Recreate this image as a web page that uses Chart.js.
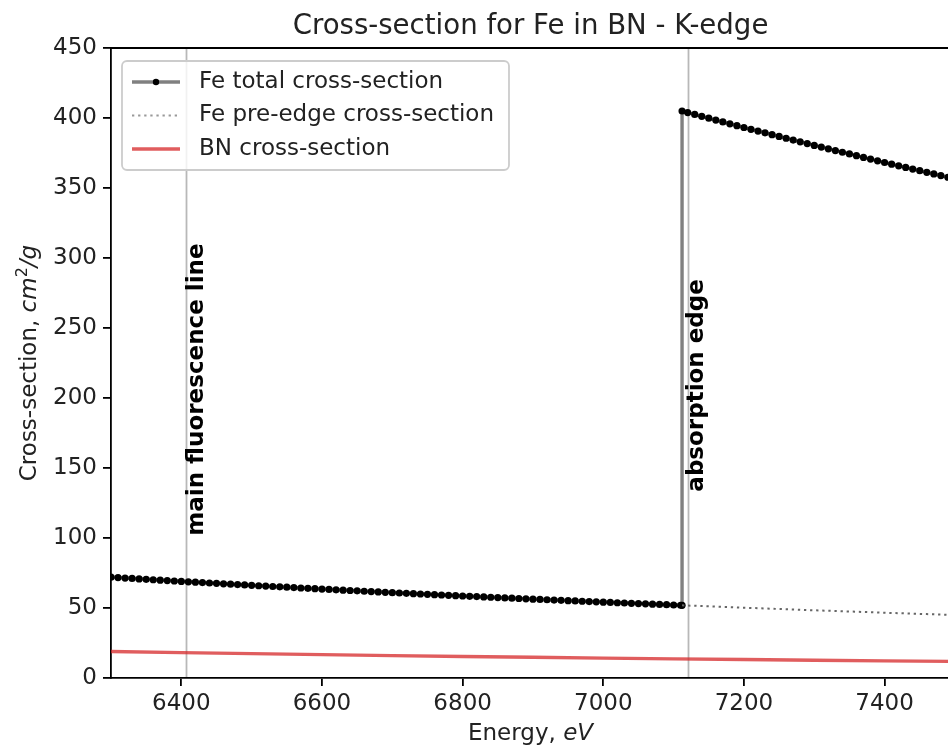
<!DOCTYPE html>
<html>
<head>
<meta charset="utf-8">
<script src="https://cdn.jsdelivr.net/npm/chart.js@4"></script>
<style>
  html, body { margin: 0; padding: 0; background: #fff; overflow: hidden; }
  canvas { display: block; }
</style>
</head>
<body>
<canvas id="xsChart" width="960" height="751"></canvas>
<script>
// energies (eV) below the K-edge, Fe total cross-section (cm2/g)
const energyLow = [
  6300, 6310, 6320, 6330, 6340, 6350, 6360, 6370, 6380, 6390,
  6400, 6410, 6420, 6430, 6440, 6450, 6460, 6470, 6480, 6490,
  6500, 6510, 6520, 6530, 6540, 6550, 6560, 6570, 6580, 6590,
  6600, 6610, 6620, 6630, 6640, 6650, 6660, 6670, 6680, 6690,
  6700, 6710, 6720, 6730, 6740, 6750, 6760, 6770, 6780, 6790,
  6800, 6810, 6820, 6830, 6840, 6850, 6860, 6870, 6880, 6890,
  6900, 6910, 6920, 6930, 6940, 6950, 6960, 6970, 6980, 6990,
  7000, 7010, 7020, 7030, 7040, 7050, 7060, 7070, 7080, 7090,
  7100, 7110, 7112
];
const totalLow = [
  72.00, 71.70, 71.39, 71.09, 70.79, 70.49, 70.19, 69.89, 69.59, 69.30,
  69.00, 68.72, 68.43, 68.15, 67.87, 67.59, 67.30, 67.02, 66.74, 66.45,
  66.17, 65.90, 65.64, 65.37, 65.10, 64.84, 64.57, 64.30, 64.04, 63.77,
  63.50, 63.25, 62.99, 62.74, 62.49, 62.24, 61.98, 61.73, 61.48, 61.22,
  60.97, 60.73, 60.49, 60.25, 60.01, 59.78, 59.54, 59.30, 59.06, 58.82,
  58.58, 58.35, 58.13, 57.90, 57.68, 57.45, 57.22, 57.00, 56.77, 56.55,
  56.32, 56.11, 55.89, 55.68, 55.46, 55.25, 55.03, 54.82, 54.60, 54.39,
  54.17, 53.97, 53.76, 53.56, 53.36, 53.16, 52.95, 52.75, 52.55, 52.34,
  52.14, 51.95, 51.91
];

// energies above the edge, Fe total and the pre-edge extrapolation
const energyHigh = [
  7112, 7120, 7130, 7140, 7150, 7160, 7170, 7180, 7190,
  7200, 7210, 7220, 7230, 7240, 7250, 7260, 7270, 7280, 7290,
  7300, 7310, 7320, 7330, 7340, 7350, 7360, 7370, 7380, 7390,
  7400, 7410, 7420, 7430, 7440, 7450, 7460, 7470, 7480, 7490,
  7500
];
const totalHigh = [
  405.00, 403.91, 402.55, 401.20, 399.86, 398.52, 397.19, 395.86, 394.54,
  393.22, 391.94, 390.66, 389.38, 388.10, 386.82, 385.54, 384.26, 382.98, 381.70,
  380.42, 379.20, 377.98, 376.75, 375.53, 374.31, 373.09, 371.87, 370.64, 369.42,
  368.20, 367.03, 365.86, 364.70, 363.53, 362.36, 361.19, 360.02, 358.86, 357.69,
  356.52
];
const preEdge = [
  51.91, 51.76, 51.57, 51.39, 51.20, 51.02, 50.83, 50.65, 50.43,
  50.21, 50.03, 49.84, 49.66, 49.47, 49.29, 49.11, 48.92, 48.74, 48.55,
  48.37, 48.20, 48.02, 47.85, 47.67, 47.50, 47.33, 47.15, 46.98, 46.80,
  46.63, 46.46, 46.30, 46.13, 45.96, 45.80, 45.63, 45.46, 45.29, 45.13,
  44.96
];

// BN matrix cross-section
const energyBN = [6300, 6400, 6500, 6600, 6700, 6800, 6900, 7000, 7100, 7200, 7300, 7400, 7500];
const bnValues = [18.90, 18.12, 17.38, 16.67, 16.01, 15.38, 14.79, 14.22, 13.69, 13.19, 12.70, 12.25, 11.81];

const xTicks = [6400, 6600, 6800, 7000, 7200, 7400];
const yTicks = [0, 50, 100, 150, 200, 250, 300, 350, 400, 450];

const fluoLineE = 6407;
const edgeLineE = 7120;

const FONT = "'DejaVu Sans', sans-serif";
const pts = (xs, ys) => xs.map((x, i) => ({ x, y: ys[i] }));

const decor = {
  id: "decor",
  beforeDatasetsDraw(chart) {
    const { ctx, chartArea: a, scales: { x } } = chart;
    ctx.save();
    ctx.strokeStyle = "rgba(0,0,0,0.28)";
    ctx.lineWidth = 1.8;
    [fluoLineE, edgeLineE].forEach(e => {
      const px = Math.round(x.getPixelForValue(e)) + 0.5;
      ctx.beginPath(); ctx.moveTo(px, a.top); ctx.lineTo(px, a.bottom); ctx.stroke();
    });
    ctx.restore();
  },
  afterDatasetsDraw(chart) {
    const { ctx, chartArea: a, scales: { x, y } } = chart;
    ctx.save();
    // top spine
    ctx.strokeStyle = "#000"; ctx.lineWidth = 1.8;
    ctx.beginPath(); ctx.moveTo(a.left, a.top); ctx.lineTo(a.right, a.top); ctx.stroke();

    // rotated annotations
    ctx.fillStyle = "#000";
    ctx.font = "bold 23px " + FONT;
    ctx.textAlign = "center"; ctx.textBaseline = "middle";
    [["main fluorescence line", fluoLineE, 206, 11], ["absorption edge", edgeLineE, 209, 9]].forEach(([t, e, v, dx]) => {
      ctx.save();
      ctx.translate(x.getPixelForValue(e) + dx, y.getPixelForValue(v));
      ctx.rotate(-Math.PI / 2);
      ctx.fillText(t, 0, 0);
      ctx.restore();
    });

    // title
    const cx = (a.left + a.right) / 2;
    ctx.fillStyle = "#222";
    ctx.font = "27.6px " + FONT;
    ctx.textBaseline = "alphabetic";
    ctx.fillText("Cross-section for Fe in BN - K-edge", cx, 34);

    // x label
    ctx.font = "23px " + FONT;
    const e1 = "Energy, ";
    const w1 = ctx.measureText(e1).width;
    ctx.font = "italic 23px " + FONT;
    const w2 = ctx.measureText("eV").width;
    let sx = cx - (w1 + w2) / 2;
    ctx.textAlign = "left";
    ctx.font = "23px " + FONT; ctx.fillText(e1, sx, 740);
    ctx.font = "italic 23px " + FONT; ctx.fillText("eV", sx + w1, 740);

    // y label
    ctx.save();
    ctx.translate(36, (a.top + a.bottom) / 2);
    ctx.rotate(-Math.PI / 2);
    const parts = [
      ["Cross-section, ", "23px ", 0],
      ["cm", "italic 23px ", 0],
      ["2", "16px ", -9],
      ["/g", "italic 23px ", 0]
    ];
    let tw = 0;
    parts.forEach(p => { ctx.font = p[1] + FONT; p.push(ctx.measureText(p[0]).width); tw += p[3]; });
    let px = -tw / 2;
    parts.forEach(p => { ctx.font = p[1] + FONT; ctx.fillText(p[0], px, p[2]); px += p[3]; });
    ctx.restore();

    // legend
    const lx = 122, ly = 61, lw = 387, lh = 109;
    ctx.fillStyle = "rgba(255,255,255,0.8)";
    ctx.strokeStyle = "#cccccc"; ctx.lineWidth = 1.8;
    ctx.beginPath(); ctx.roundRect(lx, ly, lw, lh, 5); ctx.fill(); ctx.stroke();
    const rows = [
      ["Fe total cross-section", 82],
      ["Fe pre-edge cross-section", 115.5],
      ["BN cross-section", 149]
    ];
    // handles
    ctx.lineWidth = 3.4; ctx.strokeStyle = "#808080";
    ctx.beginPath(); ctx.moveTo(132, 82); ctx.lineTo(180, 82); ctx.stroke();
    ctx.fillStyle = "#000";
    ctx.beginPath(); ctx.arc(156, 82, 3.2, 0, Math.PI * 2); ctx.fill();
    ctx.lineWidth = 2; ctx.strokeStyle = "#999"; ctx.setLineDash([2.3, 3.8]);
    ctx.beginPath(); ctx.moveTo(132, 115.5); ctx.lineTo(180, 115.5); ctx.stroke();
    ctx.setLineDash([]);
    ctx.lineWidth = 3.4; ctx.strokeStyle = "rgba(214,39,40,0.75)";
    ctx.beginPath(); ctx.moveTo(132, 149); ctx.lineTo(180, 149); ctx.stroke();
    ctx.fillStyle = "#222"; ctx.font = "23px " + FONT; ctx.textBaseline = "middle";
    rows.forEach(([t, ry]) => ctx.fillText(t, 199, ry));
    ctx.restore();
  }
};

new Chart(document.getElementById("xsChart"), {
  type: "line",
  data: {
    datasets: [
      { label: "BN cross-section", data: pts(energyBN, bnValues), borderColor: "rgba(214,39,40,0.75)", borderWidth: 3.4, pointRadius: 0, tension: 0 },
      { label: "Fe pre-edge cross-section", data: pts(energyHigh, preEdge), borderColor: "#666", borderWidth: 2, borderDash: [2.3, 3.8], pointRadius: 0, tension: 0 },
      { label: "Fe total cross-section", data: pts(energyLow, totalLow).concat(pts(energyHigh, totalHigh)), borderColor: "#808080", borderWidth: 3.4,
        pointRadius: 3.6, pointBackgroundColor: "#000", pointBorderColor: "#000", pointBorderWidth: 0, tension: 0 }
    ]
  },
  options: {
    responsive: false,
    devicePixelRatio: 1,
    animation: false,
    layout: { padding: { top: 48, right: 10, left: 0, bottom: 0 } },
    plugins: { legend: { display: false }, tooltip: { enabled: false } },
    scales: {
      x: {
        type: "linear", min: 6300, max: 7493,
        afterBuildTicks: s => { s.ticks = xTicks.map(v => ({ value: v })); },
        afterFit: s => { s.height = 73; },
        grid: { drawOnChartArea: false, tickLength: 8, color: "#000", lineWidth: 1.8 },
        border: { color: "#000", width: 1.8 },
        ticks: { font: { family: FONT, size: 23 }, color: "#222", padding: 4, maxRotation: 0, autoSkip: false, callback: v => String(v) }
      },
      y: {
        min: 0, max: 450,
        afterBuildTicks: s => { s.ticks = yTicks.map(v => ({ value: v })); },
        afterFit: s => { s.width = 111; },
        grid: { drawOnChartArea: false, tickLength: 8, color: "#000", lineWidth: 1.8 },
        border: { color: "#000", width: 1.8 },
        ticks: { font: { family: FONT, size: 23 }, color: "#222", padding: 6, callback: v => String(v) }
      }
    }
  },
  plugins: [decor]
});
</script>
</body>
</html>
